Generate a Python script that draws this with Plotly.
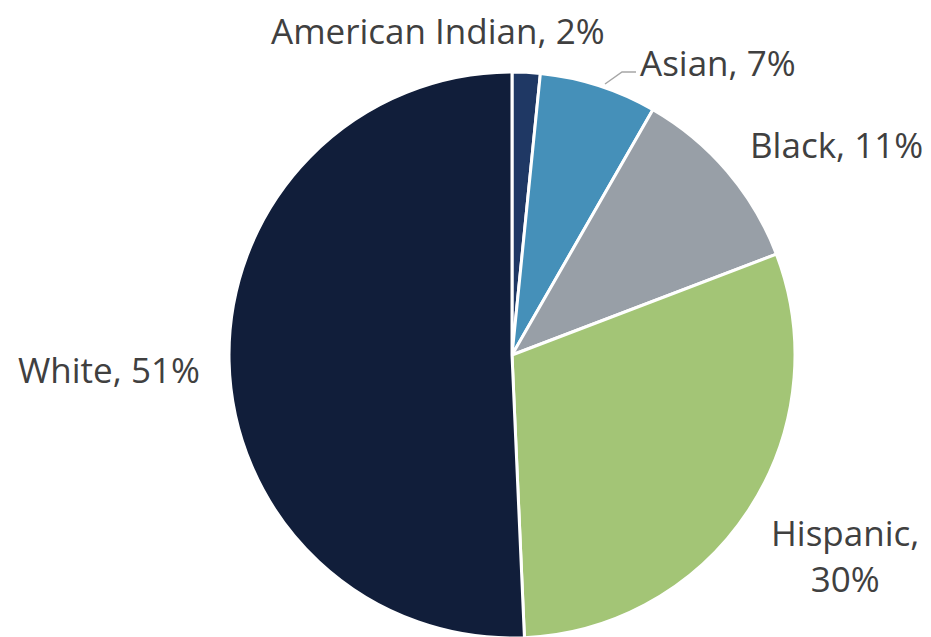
import plotly.graph_objects as go

categories = ["American Indian", "Asian", "Black", "Hispanic", "White"]
values = [1.6, 6.7, 10.9, 30.1, 50.7]
colors = ["#1f3864", "#4590b9", "#989fa7", "#a3c576", "#111e3a"]
label_breaks = [", ", ", ", ", ", ",<br>", ", "]

W, H = 931, 637
OFF = 8  # default page body margin
# label centres in window pixels (layout only)
label_pos = [(438, 30), (718, 62), (836, 145), (845, 555), (109, 370)]


def fx(px):
    return (px - OFF) / W


def fy(py):
    return 1 - (py - OFF) / H


cx, cy, r = 512, 355, 283
total = sum(values)
fig = go.Figure(go.Pie(
    labels=categories, values=values, sort=False, direction="clockwise",
    rotation=0, marker=dict(colors=colors, line=dict(color="white", width=3)),
    textinfo="none", hoverinfo="label+percent",
    domain=dict(x=[fx(cx - r), fx(cx + r)], y=[fy(cy + r), fy(cy - r)]),
    showlegend=False,
))

for cat, v, br, (px, py) in zip(categories, values, label_breaks, label_pos):
    fig.add_annotation(
        text=f"{cat}{br}{round(v / total * 100)}%", x=fx(px), y=fy(py),
        xref="paper", yref="paper", xanchor="center", yanchor="middle",
        showarrow=False, align="center",
        font=dict(family="Open Sans", size=35, color="#404040"),
    )

# leader line for Asian label
fig.add_shape(type="path", xref="paper", yref="paper",
              path=f"M {fx(605)} {fy(84)} L {fx(622)} {fy(72)} L {fx(636)} {fy(72)}",
              line=dict(color="#a6a6a6", width=1.5))

fig.update_layout(width=W, height=H, margin=dict(l=0, r=0, t=0, b=0),
                  paper_bgcolor="white", plot_bgcolor="white")
fig.write_html("out.html")
